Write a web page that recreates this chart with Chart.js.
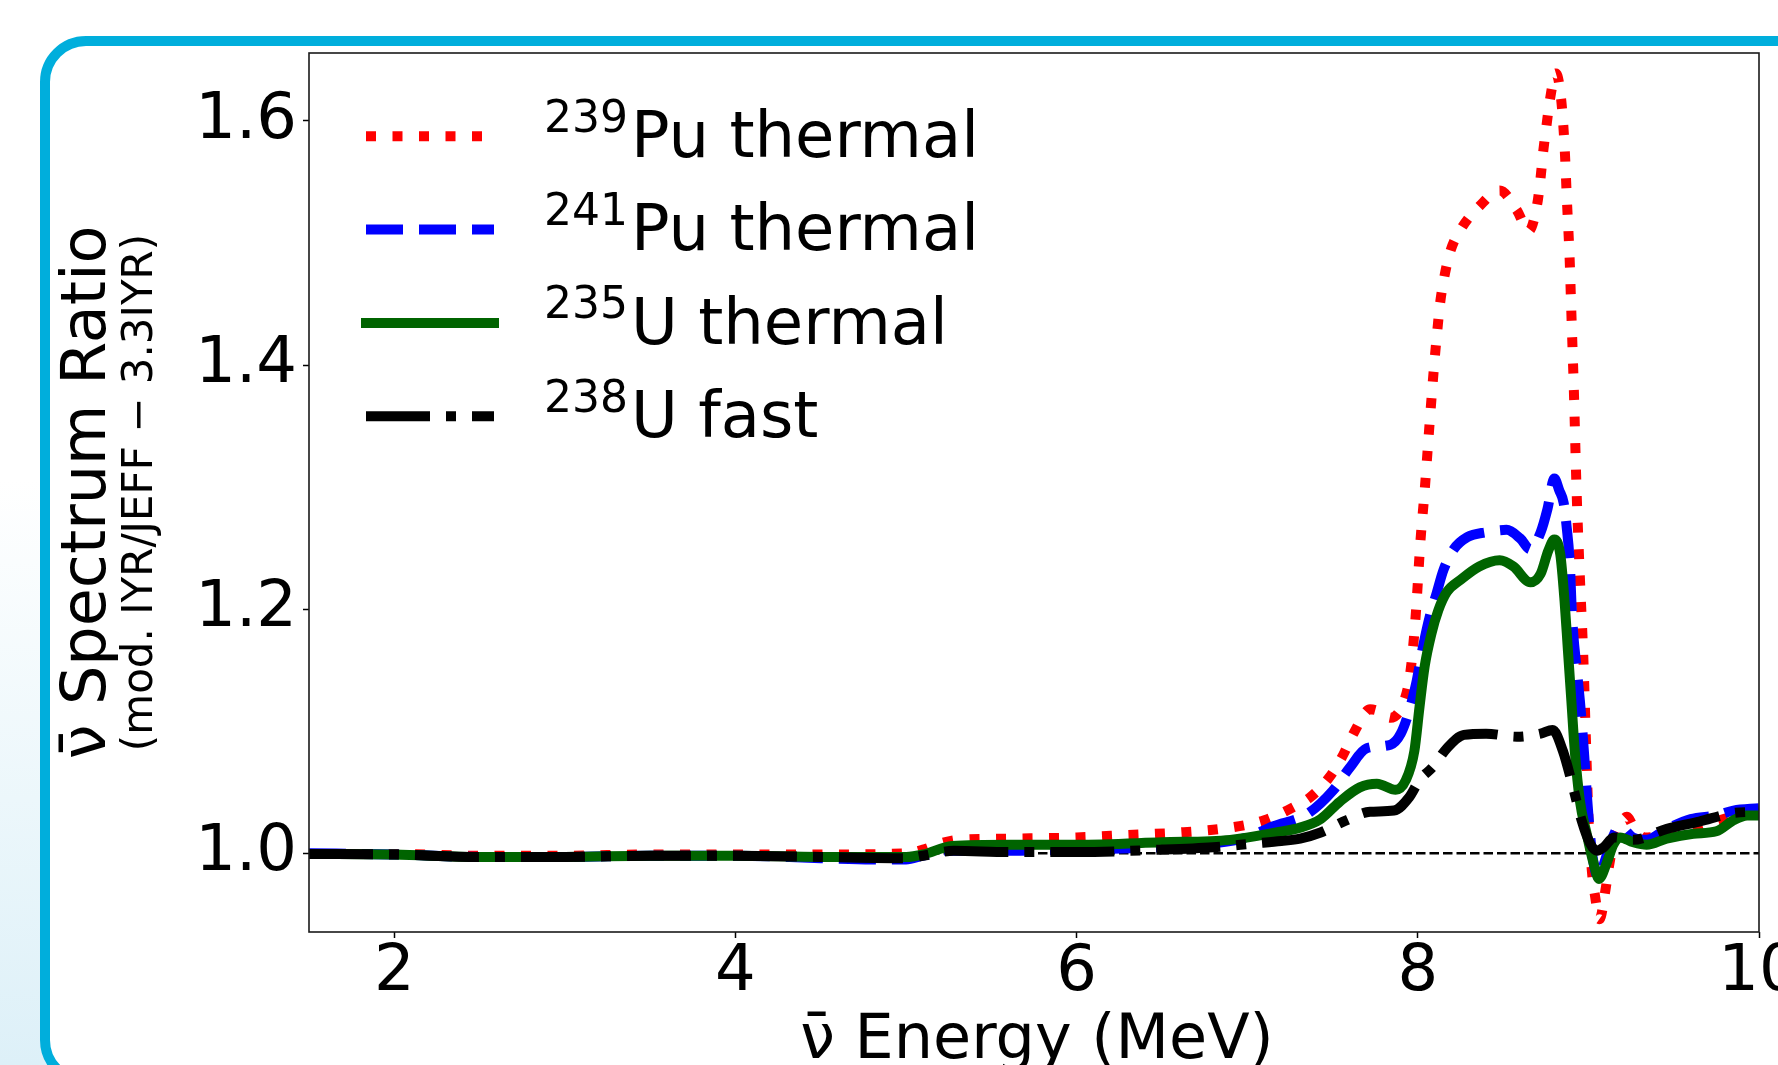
<!DOCTYPE html>
<html>
<head>
<meta charset="utf-8">
<script src="https://cdn.jsdelivr.net/npm/chart.js@4.4.1/dist/chart.umd.min.js"></script>
<style>
  html, body { margin: 0; padding: 0; width: 1778px; height: 1065px; overflow: hidden; }
  body { position: relative; background: linear-gradient(to bottom, #ffffff 0%, #ffffff 45%, #ecf7fb 75%, #ddf0f8 100%); }
  #frame { position: absolute; left: 40px; top: 36px; width: 1820px; height: 1050px; box-sizing: border-box;
           border: 10px solid #00aedc; border-radius: 46px; background: #ffffff; }
  #c { position: absolute; left: 0; top: 0; }
</style>
</head>
<body>
<div id="frame"></div>
<canvas id="c" width="1900" height="1150"></canvas>
<script>
// ---------------- data ----------------
const pu239Energy = [1.5, 2.0, 2.5, 3.0, 3.5, 4.0, 4.5, 5.0, 5.1, 5.2, 5.3, 5.6, 6.0, 6.3, 6.6, 6.9, 7.1, 7.26, 7.37, 7.48, 7.56, 7.63, 7.72, 7.78, 7.84, 7.92, 7.955, 7.985, 8.016, 8.04, 8.063, 8.087, 8.10, 8.114, 8.13, 8.155, 8.19, 8.26, 8.36, 8.48, 8.58, 8.65, 8.70, 8.72, 8.735, 8.755, 8.775, 8.81, 8.84, 8.86, 8.875, 8.89, 8.90, 8.915, 8.93, 8.95, 8.97, 8.985, 9.0, 9.02, 9.04, 9.065, 9.10, 9.12, 9.15, 9.19, 9.225, 9.27, 9.33, 9.5, 9.7, 9.85, 10.0];
const pu239Ratio  = [0.9995, 0.9995, 0.998, 0.998, 0.999, 0.999, 0.999, 1.000, 1.003, 1.008, 1.011, 1.012, 1.013, 1.015, 1.017, 1.021, 1.027, 1.037, 1.046, 1.062, 1.080, 1.100, 1.118, 1.116, 1.111, 1.125, 1.147, 1.190, 1.257, 1.297, 1.341, 1.385, 1.407, 1.428, 1.450, 1.472, 1.493, 1.513, 1.530, 1.543, 1.527, 1.510, 1.532, 1.554, 1.575, 1.597, 1.618, 1.639, 1.618, 1.580, 1.532, 1.487, 1.443, 1.378, 1.300, 1.226, 1.161, 1.095, 1.030, 0.986, 0.964, 0.946, 0.970, 0.989, 1.010, 1.024, 1.030, 1.020, 1.013, 1.016, 1.024, 1.030, 1.032];

const pu241Energy = [1.5, 2.0, 2.5, 3.0, 3.5, 4.0, 4.5, 4.8, 5.0, 5.1, 5.25, 5.6, 6.0, 6.5, 6.8, 7.0, 7.15, 7.35, 7.5, 7.6, 7.7, 7.84, 7.9, 7.95, 7.99, 8.03, 8.07, 8.11, 8.15, 8.21, 8.29, 8.40, 8.52, 8.60, 8.66, 8.72, 8.76, 8.80, 8.83, 8.855, 8.872, 8.892, 8.90, 8.911, 8.93, 8.95, 8.966, 8.98, 8.993, 9.009, 9.028, 9.058, 9.097, 9.136, 9.185, 9.26, 9.34, 9.46, 9.6, 9.75, 9.85, 10.0];
const pu241Ratio  = [1.000, 0.999, 0.997, 0.997, 0.998, 0.998, 0.996, 0.995, 0.995, 0.998, 1.002, 1.002, 1.003, 1.005, 1.008, 1.013, 1.022, 1.032, 1.051, 1.070, 1.086, 1.089, 1.098, 1.117, 1.139, 1.169, 1.194, 1.213, 1.232, 1.249, 1.259, 1.263, 1.265, 1.258, 1.249, 1.263, 1.282, 1.307, 1.297, 1.287, 1.268, 1.235, 1.207, 1.180, 1.153, 1.125, 1.098, 1.071, 1.044, 1.016, 0.994, 0.980, 0.994, 1.011, 1.022, 1.013, 1.011, 1.020, 1.028, 1.031, 1.035, 1.037];

const u235Energy = [1.5, 2.0, 2.5, 3.0, 3.5, 4.0, 4.5, 5.0, 5.1, 5.27, 5.6, 6.0, 6.5, 6.9, 7.17, 7.31, 7.43, 7.54, 7.66, 7.76, 7.87, 7.93, 7.98, 8.01, 8.04, 8.08, 8.12, 8.17, 8.25, 8.36, 8.48, 8.56, 8.66, 8.72, 8.765, 8.80, 8.835, 8.86, 8.88, 8.90, 8.92, 8.95, 8.99, 9.03, 9.062, 9.107, 9.146, 9.185, 9.263, 9.341, 9.458, 9.615, 9.75, 9.85, 9.93, 10.0];
const u235Ratio  = [0.9995, 0.999, 0.997, 0.997, 0.998, 0.998, 0.997, 0.997, 0.999, 1.006, 1.007, 1.007, 1.009, 1.011, 1.017, 1.021, 1.028, 1.042, 1.054, 1.057, 1.052, 1.060, 1.084, 1.120, 1.153, 1.180, 1.199, 1.214, 1.224, 1.235, 1.240, 1.235, 1.222, 1.229, 1.248, 1.257, 1.245, 1.207, 1.166, 1.125, 1.084, 1.043, 1.016, 0.992, 0.979, 0.992, 1.007, 1.013, 1.009, 1.007, 1.012, 1.016, 1.018, 1.027, 1.031, 1.031];

const u238Energy = [1.5, 2.0, 2.5, 3.0, 3.5, 4.0, 4.5, 5.0, 5.1, 5.28, 5.6, 6.0, 6.5, 6.8, 7.04, 7.2, 7.31, 7.43, 7.58, 7.72, 7.86, 7.95, 8.01, 8.09, 8.17, 8.27, 8.40, 8.58, 8.72, 8.79, 8.85, 8.91, 8.96, 9.01, 9.05, 9.09, 9.15, 9.26, 9.46, 9.65, 9.85, 10.0];
const u238Ratio  = [0.9995, 0.999, 0.997, 0.997, 0.998, 0.998, 0.997, 0.996, 0.998, 1.002, 1.001, 1.001, 1.003, 1.005, 1.008, 1.010, 1.012, 1.017, 1.027, 1.034, 1.035, 1.046, 1.060, 1.071, 1.086, 1.097, 1.098, 1.0955, 1.098, 1.101, 1.084, 1.054, 1.027, 1.008, 1.002, 1.005, 1.013, 1.011, 1.020, 1.026, 1.033, 1.034];

const refEnergy = [1.5, 10.0];
const refRatio  = [1.0, 1.0];

const isotopeMass  = ['239', '241', '235', '238'];
const isotopeLabel = ['Pu thermal', 'Pu thermal', 'U thermal', 'U fast'];

const xTicks = [2, 4, 6, 8, 10];
const yTicks = [1.0, 1.2, 1.4, 1.6];
const xTitle = 'ν\u0304 Energy (MeV)';
const yTitle = 'ν\u0304 Spectrum Ratio';
const ySubTitle = '(mod. IYR/JEFF \u2212 3.3IYR)';

// ---------------- chart ----------------
const FONT = "'DejaVu Sans', 'Liberation Sans', sans-serif";
Chart.defaults.font.family = FONT;
Chart.defaults.color = '#000';

function pts(xs, ys) { return xs.map((x, i) => ({ x: x, y: ys[i] })); }
function series(label, xs, ys, color, dash, order) {
  return {
    label: label, data: pts(xs, ys), borderColor: color, backgroundColor: color,
    borderWidth: 10, borderDash: dash, borderCapStyle: 'butt', borderJoinStyle: 'round',
    cubicInterpolationMode: 'monotone', pointRadius: 0, pointHoverRadius: 0, fill: false,
    order: order, clip: 0
  };
}

const datasets = [
  series('239Pu thermal', pu239Energy, pu239Ratio, '#ff0000', [10, 16.5], 4),
  series('241Pu thermal', pu241Energy, pu241Ratio, '#0000ff', [37, 16], 3),
  series('235U thermal', u235Energy, u235Ratio, '#006400', [], 2),
  series('238U fast', u238Energy, u238Ratio, '#000000', [64, 16, 10, 16], 1),
  { label: 'ref', data: pts(refEnergy, refRatio), borderColor: '#000', borderWidth: 2.5,
    borderDash: [9.5, 4], pointRadius: 0, fill: false, order: 5, clip: 0, tension: 0 }
];

const decor = {
  id: 'decor',
  afterDatasetsDraw(chart) {
    const ctx = chart.ctx, a = chart.chartArea;
    ctx.save();
    // frame
    ctx.strokeStyle = '#1a1a1a';
    ctx.lineWidth = 1.6;
    ctx.setLineDash([]);
    ctx.strokeRect(a.left, a.top, a.right - a.left, a.bottom - a.top);
    // legend
    for (let i = 0; i < 4; i++) {
      const ds = chart.data.datasets[i];
      const yRow = a.top + 83.3 + i * 93.3;
      ctx.beginPath();
      ctx.strokeStyle = ds.borderColor;
      ctx.lineWidth = 10;
      ctx.lineCap = 'butt';
      ctx.setLineDash(ds.borderDash);
      const solid = ds.borderDash.length === 0;
      ctx.moveTo(a.left + (solid ? 52 : 57), yRow);
      ctx.lineTo(a.left + (solid ? 190 : 185), yRow);
      ctx.stroke();
      ctx.setLineDash([]);
      ctx.fillStyle = '#000';
      ctx.textAlign = 'left';
      ctx.textBaseline = 'alphabetic';
      ctx.font = '44px ' + FONT;
      ctx.fillText(isotopeMass[i], a.left + 235, yRow - 4.5);
      ctx.font = '64px ' + FONT;
      ctx.fillText(isotopeLabel[i], a.left + 322, yRow + 20.7);
    }
    ctx.restore();
  },
  afterDraw(chart) {
    const ctx = chart.ctx, a = chart.chartArea;
    const cy = (a.top + a.bottom) / 2;
    ctx.save();
    ctx.fillStyle = '#000';
    ctx.textAlign = 'center';
    ctx.textBaseline = 'alphabetic';
    // x title
    ctx.font = '62px ' + FONT;
    ctx.fillText(xTitle, (a.left + a.right) / 2 + 3, 1058);
    // y titles
    ctx.save();
    ctx.translate(105, cy);
    ctx.rotate(-Math.PI / 2);
    ctx.font = '62px ' + FONT;
    ctx.fillText(yTitle, 0, 0);
    ctx.restore();
    ctx.save();
    ctx.translate(151.5, cy);
    ctx.rotate(-Math.PI / 2);
    ctx.font = '42px ' + FONT;
    ctx.fillText(ySubTitle, 0, 0);
    ctx.restore();
    ctx.restore();
  }
};

new Chart(document.getElementById('c'), {
  type: 'line',
  data: { datasets: datasets },
  plugins: [decor],
  options: {
    responsive: false,
    animation: false,
    devicePixelRatio: 1,
    layout: { padding: { left: 0, top: 53, right: 141, bottom: 0 } },
    plugins: { legend: { display: false }, tooltip: { enabled: false } },
    events: [],
    scales: {
      x: {
        type: 'linear', min: 1.5, max: 10,
        afterBuildTicks: s => { s.ticks = xTicks.map(v => ({ value: v })); },
        afterFit: s => { s.height = 218; },
        ticks: { autoSkip: false, maxRotation: 0, minRotation: 0, padding: 3,
                 font: { size: 64, lineHeight: 1 }, color: '#000',
                 callback: v => String(v) },
        grid: { display: true, drawOnChartArea: false, drawTicks: true, tickLength: 6,
                tickColor: '#000', tickWidth: 1.5 },
        border: { display: false },
        title: { display: false }
      },
      y: {
        type: 'linear', min: 0.9355, max: 1.6557,
        afterBuildTicks: s => { s.ticks = yTicks.map(v => ({ value: v })); },
        afterFit: s => { s.width = 309; },
        ticks: { autoSkip: false, padding: 6, font: { size: 64, lineHeight: 1 }, color: '#000',
                 callback: v => Number(v).toFixed(1) },
        grid: { display: true, drawOnChartArea: false, drawTicks: true, tickLength: 6,
                tickColor: '#000', tickWidth: 1.5 },
        border: { display: false },
        title: { display: false }
      }
    }
  }
});
</script>
</body>
</html>
